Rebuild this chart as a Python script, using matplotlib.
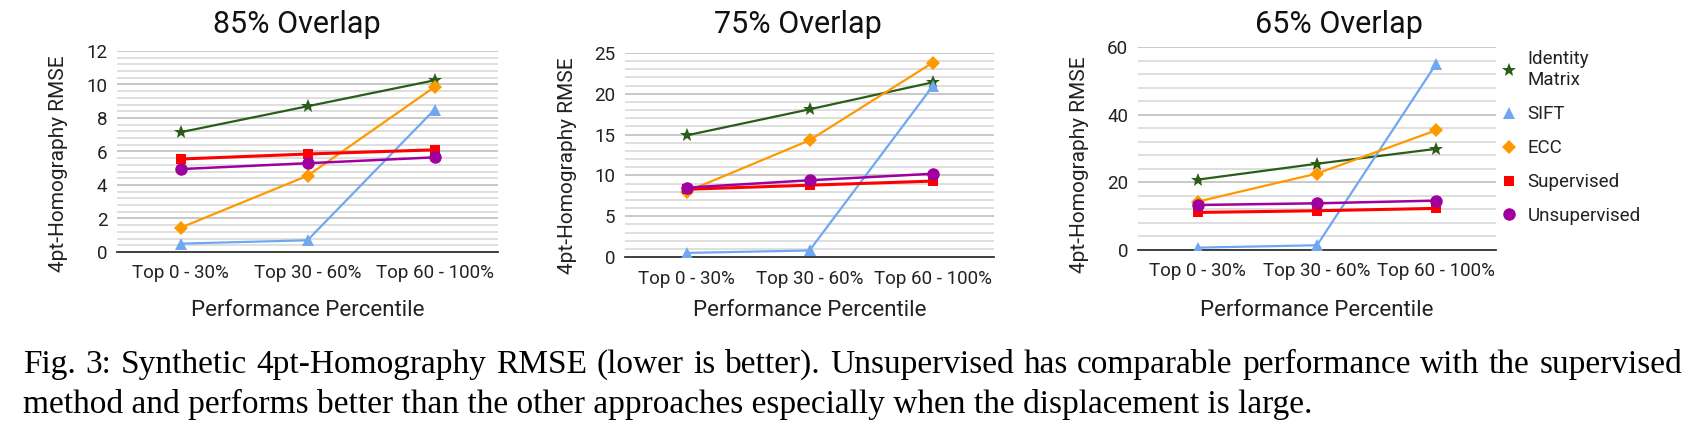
import matplotlib
matplotlib.use("Agg")
import matplotlib.pyplot as plt
from matplotlib.ticker import MultipleLocator

W, H = 1696, 444

categories = ["Top 0 - 30%", "Top 30 - 60%", "Top 60 - 100%"]
methods = ["Identity\nMatrix", "SIFT", "ECC", "Supervised", "Unsupervised"]

# RMSE values
overlap_85 = {
    "Identity\nMatrix": [7.15, 8.7, 10.25],
    "SIFT":             [0.5, 0.7, 8.5],
    "ECC":              [1.45, 4.55, 9.85],
    "Supervised":       [5.55, 5.85, 6.1],
    "Unsupervised":     [4.95, 5.3, 5.65],
}
overlap_75 = {
    "Identity\nMatrix": [14.9, 18.1, 21.4],
    "SIFT":             [0.5, 0.8, 20.9],
    "ECC":              [8.0, 14.3, 23.8],
    "Supervised":       [8.3, 8.8, 9.3],
    "Unsupervised":     [8.5, 9.4, 10.2],
}
overlap_65 = {
    "Identity\nMatrix": [20.8, 25.5, 29.9],
    "SIFT":             [0.7, 1.4, 55.1],
    "ECC":              [14.3, 22.6, 35.4],
    "Supervised":       [11.1, 11.6, 12.3],
    "Unsupervised":     [13.3, 13.8, 14.6],
}

styles = {
    "Identity\nMatrix": dict(color="#2a5e18", marker="*", ms=10, lw=1.6),
    "SIFT":             dict(color="#6fa8f0", marker="^", ms=8, lw=1.6),
    "ECC":              dict(color="#ff9900", marker="D", ms=7, lw=1.6),
    "Supervised":       dict(color="#ff0000", marker="s", ms=7, lw=2.2),
    "Unsupervised":     dict(color="#a0009e", marker="o", ms=9, lw=1.8),
}

panels = [
    # title, data, ymax, major step, (left, right, top, bottom) px, title x, ylabel x, ylabel y frac
    ("85% Overlap", overlap_85, 12, 2, (117, 498, 51, 252), 297, 68, 0.44),
    ("75% Overlap", overlap_75, 25, 5, (625, 994, 53, 257), 798, 577, 0.45),
    ("65% Overlap", overlap_65, 60, 20, (1138, 1496, 47, 250), 1339, 1089, 0.42),
]

plt.rcParams["font.family"] = "Roboto"

fig = plt.figure(figsize=(W / 100, H / 100), dpi=100)

for title, data, ymax, major, (l, r, t, b), tx, ylx, yly in panels:
    ax = fig.add_axes([l / W, 1 - b / H, (r - l) / W, (b - t) / H])
    x = range(len(categories))
    for m in methods:
        st = styles[m]
        ax.plot(x, data[m], color=st["color"], marker=st["marker"],
                markersize=st["ms"], linewidth=st["lw"], label=m,
                markeredgewidth=0, zorder=3)
    ax.set_xlim(-0.5, 2.5)
    ax.set_ylim(0, ymax)
    ax.yaxis.set_major_locator(MultipleLocator(major))
    ax.yaxis.set_minor_locator(MultipleLocator(major / 5))
    ax.grid(which="major", axis="y", color="#c4c4c4", linewidth=1.3)
    ax.grid(which="minor", axis="y", color="#dcdcdc", linewidth=1.3)
    ax.set_axisbelow(True)
    for s in ["top", "right", "left"]:
        ax.spines[s].set_visible(False)
    ax.spines["bottom"].set_color("#333333")
    ax.spines["bottom"].set_linewidth(1.3)
    ax.spines["bottom"].set_zorder(2)
    ax.set_xticks(list(x))
    ax.set_xticklabels(categories)
    ax.tick_params(axis="both", which="both", length=0, labelsize=13.5,
                   colors="#222222")
    ax.tick_params(axis="x", pad=9)
    ax.tick_params(axis="y", pad=7)
    ax.set_ylabel("4pt-Homography RMSE", fontsize=15, color="#222222")
    ax.yaxis.set_label_coords((ylx - l) / (r - l), yly)
    fig.text((l + r) / 2 / W, 1 - 311 / H, "Performance Percentile",
             ha="center", va="center", fontsize=16, color="#222222")
    fig.text(tx / W, 1 - 33 / H, title, ha="center", va="baseline",
             fontsize=22, color="#111111")
    last_ax = ax

leg = last_ax.legend(loc="upper left", bbox_to_anchor=(1492 / W, 1 - 43 / H),
                     bbox_transform=fig.transFigure, frameon=False,
                     fontsize=13.5, handlelength=1.0, handletextpad=0.5,
                     labelspacing=0.85, borderaxespad=0)
for line in leg.get_lines():
    line.set_linestyle("none")
for txt in leg.get_texts():
    txt.set_color("#222222")

# caption, first line justified
line1 = ("Fig. 3: Synthetic 4pt-Homography RMSE (lower is better). Unsupervised "
         "has comparable performance with the supervised").split()
line2 = ("method and performs better than the other approaches especially "
         "when the displacement is large.")
cap_font = dict(fontfamily="Liberation Serif", fontsize=24, color="black",
                va="baseline", ha="left")

renderer = fig.canvas.get_renderer()
words = [fig.text(0, 1 - 373 / H, w, **cap_font) for w in line1]
widths = [wd.get_window_extent(renderer).width for wd in words]
x0, x1 = 23, 1682
gap = (x1 - x0 - sum(widths)) / (len(words) - 1)
cur = x0
for wd, w in zip(words, widths):
    wd.set_x(cur / W)
    cur += w + gap
fig.text(x0 / W, 1 - 413 / H, line2, **cap_font)

fig.savefig("out.png", dpi=100)
